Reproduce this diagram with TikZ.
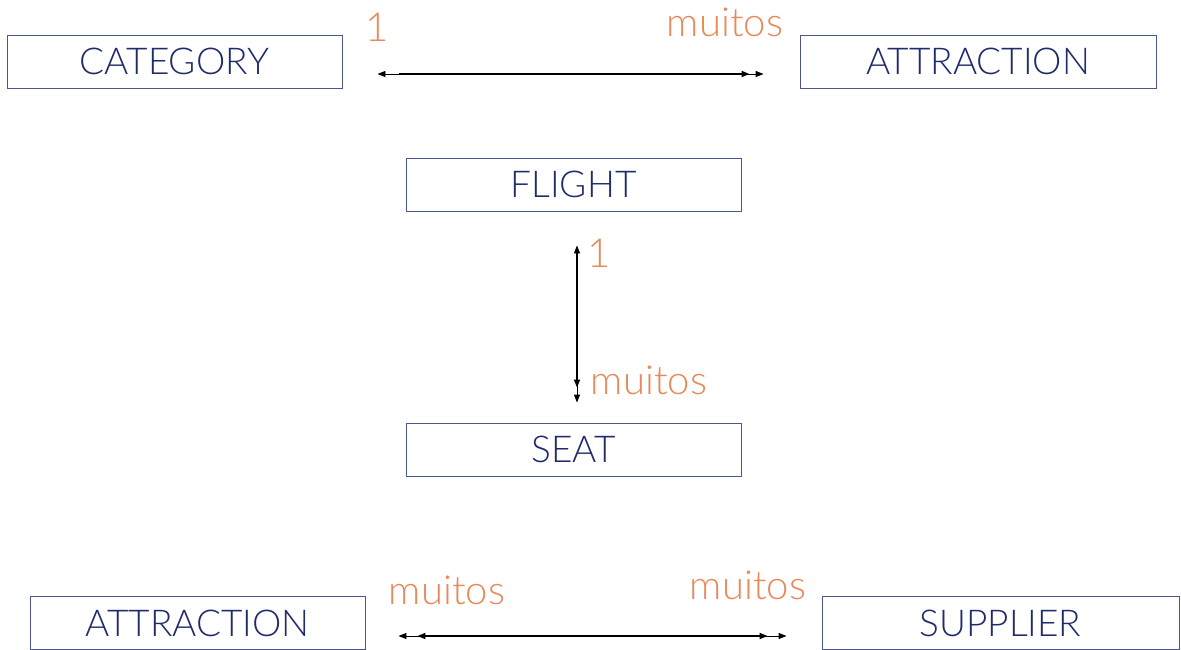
\documentclass[tikz,border=0pt]{standalone}
\usepackage{fontspec}
\IfFontExistsTF{Lato Light}{\setmainfont{Lato Light}}{\setmainfont{Lato}}
\usetikzlibrary{arrows.meta,calc}
\definecolor{navy}{HTML}{1F2B6C}
\definecolor{boxline}{HTML}{4B5690}
\definecolor{orangelab}{HTML}{E8895A}
\begin{document}
\begin{tikzpicture}[x=1pt,y=-1pt,
  >={Triangle[length=8pt,width=6pt]},
  entity/.style={draw=boxline,line width=0.9pt,minimum width=335pt,minimum height=53pt,inner sep=0pt,text=navy,font=\fontsize{37}{40}\selectfont},
  card/.style={text=orangelab,inner sep=0pt,font=\fontsize{40}{44}\selectfont},
  thinline/.style={line width=0.9pt,<->},
  thickline/.style={line width=1.8pt}]
\useasboundingbox (0,0) rectangle (1181,650);
\node[entity] (cat) at (174.5,61.5) {CATEGORY};
\node[entity,minimum width=356pt] (attr) at (978,61.5) {ATTRACTION};
\node[entity] (flight) at (573.5,184.5) {FLIGHT};
\node[entity] (seat) at (573.5,449.5) {SEAT};
\node[entity] (attrb) at (197.5,623) {ATTRACTION};
\node[entity,minimum width=357pt] (sup) at (1000.5,623) {SUPPLIER};
% labels
\node[card] (l1) at (377,27) {1};
\node[card] (l2) at (725,22) {muitos};
\node[card] (l3) at (599,253) {1};
\node[card] (l4) at (649,380) {muitos};
\node[card] (l5) at (447,590) {muitos};
\node[card] (l6) at (748,585) {muitos};
% connectors
\draw[thinline,shorten <=35pt,shorten >=36pt] ($(cat.east)+(0,12.5)$) -- ($(attr.west)+(0,12.5)$);
\draw[thickline,->,shorten <=57pt,shorten >=50pt] ($(cat.east)+(0,12.5)$) -- ($(attr.west)+(0,12.5)$);
\draw[thinline,shorten <=34pt,shorten >=20pt] ($(flight.south)+(3.5,0)$) -- ($(seat.north)+(3.5,0)$);
\draw[thickline,->,shorten <=41pt,shorten >=35pt] ($(flight.south)+(3.5,0)$) -- ($(seat.north)+(3.5,0)$);
\draw[thinline,shorten <=33pt,shorten >=35pt] ($(attrb.east)+(0,13)$) -- ($(sup.west)+(0,13)$);
\draw[thickline,<->,shorten <=52pt,shorten >=54pt] ($(attrb.east)+(0,13)$) -- ($(sup.west)+(0,13)$);
\end{tikzpicture}
\end{document}
